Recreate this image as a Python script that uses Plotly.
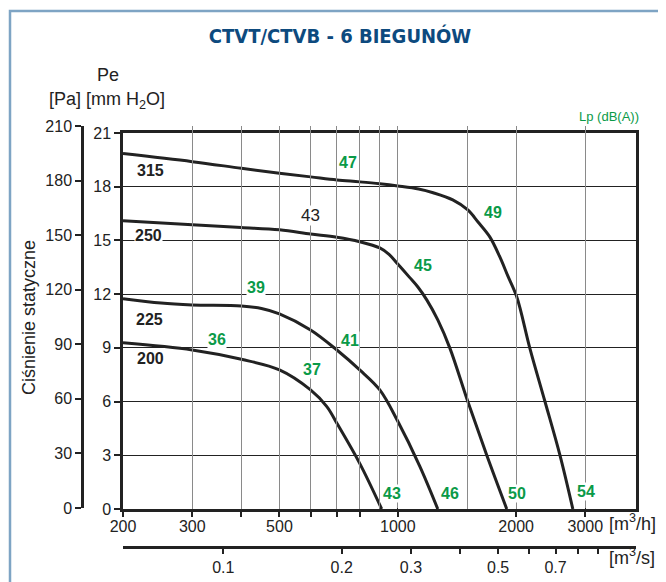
import math
import plotly.graph_objects as go

# ---------------- data ----------------
flow_315 = [200, 300, 400, 500, 600, 700, 800, 900, 1000, 1130, 1230, 1380, 1507, 1600, 1714, 1818, 1905, 2008, 2167, 2366, 2584, 2788]
pres_315 = [19.85, 19.4, 19.03, 18.75, 18.55, 18.38, 18.27, 18.16, 18.04, 17.87, 17.66, 17.26, 16.7, 16.03, 15.2, 14.08, 13.02, 11.84, 8.99, 6.03, 3.02, 0.0]

flow_250 = [200, 300, 400, 500, 600, 700, 800, 900, 950, 1000, 1070, 1125, 1185, 1264, 1356, 1507, 1684, 1893]
pres_250 = [16.1, 15.87, 15.72, 15.59, 15.36, 15.18, 14.93, 14.58, 14.22, 13.68, 12.95, 12.4, 11.68, 10.56, 9.0, 6.0, 3.0, 0.0]

flow_225 = [200, 250, 300, 400, 450, 500, 600, 700, 800, 900, 1000, 1137, 1264]
pres_225 = [11.75, 11.5, 11.4, 11.34, 11.2, 10.9, 10.0, 8.88, 7.77, 6.65, 4.9, 2.4, 0.0]

flow_200 = [200, 300, 400, 500, 600, 660, 700, 800, 910]
pres_200 = [9.28, 8.88, 8.36, 7.77, 6.65, 5.72, 4.79, 2.55, 0.0]

curves = [(flow_315, pres_315), (flow_250, pres_250), (flow_225, pres_225), (flow_200, pres_200)]

# curve labels (text, flow m3/h, pressure mm H2O)
size_labels = ["315", "250", "225", "200"]
size_flow = [235, 232, 233, 235]
size_pres = [18.88, 15.25, 10.61, 8.38]

noise_labels = ["47", "49", "45", "39", "36", "41", "37", "43", "46", "50", "54"]
noise_flow = [746, 1745, 1158, 437, 346, 755, 604, 966, 1356, 2008, 3009]
noise_pres = [19.33, 16.54, 13.58, 12.35, 9.44, 9.39, 7.77, 0.89, 0.89, 0.89, 0.95]

extra_label = "43"
extra_flow = 601
extra_pres = 16.37

# axes
flow_min, flow_max = 200, 4036
mm_ticks = [0, 3, 6, 9, 12, 15, 18, 21]
pa_ticks = [0, 30, 60, 90, 120, 150, 180, 210]
x_tickvals = [200, 300, 400, 500, 600, 700, 800, 1000, 2000, 3000]
x_ticktext = ["200", "300", "", "500", "", "", "", "1000", "2000", "3000"]
x_extra_grid = [900, 1500]
x_dark_grid = [1000, 3000]
s_tickvals = [0.1, 0.2, 0.3, 0.4, 0.5, 0.6, 0.7, 0.8, 0.9]
s_ticktext = ["0.1", "0.2", "0.3", "", "0.5", "", "0.7", "", ""]

# ---------------- layout geometry ----------------
OFF = 8  # page body margin
W, H = 666 - OFF, 582 - OFF
L = 82 - OFF
T = 126 - OFF
R = W - (636 - OFF)
B = H - (547 - OFF)
PW = W - L - R
PH = H - T - B


def px(sx):
    return (sx - OFF - L) / PW


def py(sy):
    return (H - B - (sy - OFF)) / PH


SANS = "Liberation Sans, Arial, sans-serif"
COND = "DejaVu Sans Condensed, Liberation Sans, sans-serif"
DARK = "#222222"
GRAY = "#8a8a8a"
GREEN = "#0a9a48"
BLUE = "#0d4a7e"

fig = go.Figure()
for fx, fy in curves:
    fig.add_trace(go.Scatter(x=fx, y=fy, mode="lines", line=dict(color=DARK, width=3, shape="spline", smoothing=1.0),
                             hoverinfo="skip", showlegend=False))

# helper traces so the extra axes render
fig.add_trace(go.Scatter(x=[0.1], y=[0], xaxis="x2", yaxis="y", mode="markers", marker=dict(opacity=0),
                         hoverinfo="skip", showlegend=False))
fig.add_trace(go.Scatter(x=[300], y=[0], xaxis="x", yaxis="y2", mode="markers", marker=dict(opacity=0),
                         hoverinfo="skip", showlegend=False))
fig.add_trace(go.Scatter(x=[300], y=[0], xaxis="x3", yaxis="y", mode="markers", marker=dict(opacity=0),
                         hoverinfo="skip", showlegend=False))

ann = []
for t, fx, fy in zip(size_labels, size_flow, size_pres):
    ann.append(dict(x=math.log10(fx), y=fy, xref="x", yref="y", text=t, showarrow=False,
                    xanchor="center", yanchor="middle",
                    font=dict(family=SANS, size=16, color=DARK, weight="bold"), bgcolor="white", borderpad=0))
for t, fx, fy in zip(noise_labels, noise_flow, noise_pres):
    ann.append(dict(x=math.log10(fx), y=fy, xref="x", yref="y", text=t, showarrow=False,
                    xanchor="center", yanchor="middle",
                    font=dict(family=SANS, size=16, color=GREEN, weight="bold"), bgcolor="white", borderpad=0))
ann.append(dict(x=math.log10(extra_flow), y=extra_pres, xref="x", yref="y", text=extra_label, showarrow=False,
                xanchor="center", yanchor="middle",
                font=dict(family=SANS, size=17, color=DARK), bgcolor="white", borderpad=0))


def pann(sx, sy, text, size, color=DARK, family=SANS, **kw):
    d = dict(x=px(sx), y=py(sy), xref="paper", yref="paper", text=text, showarrow=False,
             xanchor=kw.pop("xanchor", "center"), yanchor="middle",
             font=dict(family=family, size=size, color=color))
    d.update(kw)
    return d


ann += [
    pann(108, 75, "Pe", 18),
    pann(107, 100, "[Pa] [mm H<sub>2</sub>O]", 18),
    pann(609, 117, "Lp (dB(A))", 13, GREEN),
    pann(29, 318, "Ciśnienie statyczne", 18, textangle=-90),
    pann(607, 522, "[m<sup>3</sup>/h]", 18, xanchor="left"),
    pann(607, 556, "[m<sup>3</sup>/s]", 18, xanchor="left"),
]

ydom = [py(509), py(133)]
y2dom = [py(508), 1.0]
xdom = [px(123), 1.0]
xrange_log = [math.log10(flow_min), math.log10(flow_max)]

tickfont = dict(family=SANS, size=16, color=DARK)

fig.update_layout(
    template="none",
    width=W, height=H,
    margin=dict(l=L, r=R, t=T, b=B, autoexpand=False),
    paper_bgcolor="white", plot_bgcolor="rgba(0,0,0,0)",
    showlegend=False,
    title=dict(text="CTVT/CTVB - 6 BIEGUNÓW", x=(340 - OFF) / W, y=1 - (36 - OFF) / H,
               xanchor="center", yanchor="middle", xref="container", yref="container",
               font=dict(family=COND, size=20, color=BLUE, weight="bold")),
    xaxis=dict(type="log", range=xrange_log, domain=xdom, anchor="y",
               automargin=False,
               tickmode="array", tickvals=x_tickvals, ticktext=x_ticktext,
               ticks="outside", ticklen=5, tickwidth=1.5, tickcolor=DARK, ticklabelstandoff=-4,
               showgrid=True, gridcolor=GRAY, gridwidth=1.2,
               minor=dict(tickmode="array", tickvals=x_extra_grid, ticks="", showgrid=True,
                          gridcolor=GRAY, gridwidth=1.2),
               showline=True, linecolor=DARK, linewidth=2.5, mirror=True, zeroline=False,
               tickfont=tickfont),
    xaxis3=dict(type="log", range=xrange_log, overlaying="x", anchor="y", automargin=False,
                tickmode="array", tickvals=x_dark_grid, showticklabels=False, ticks="",
                showgrid=True, gridcolor=DARK, gridwidth=1.2, showline=False, zeroline=False),
    xaxis2=dict(type="log", range=[math.log10(flow_min / 3600), math.log10(flow_max / 3600)],
                overlaying="x", anchor="free", position=0, side="bottom", automargin=False,
                tickmode="array", tickvals=s_tickvals, ticktext=s_ticktext,
                ticks="outside", ticklen=5, tickwidth=1.5, tickcolor=DARK,
                showgrid=False, showline=True, linecolor=DARK, linewidth=2.5, zeroline=False,
                tickfont=tickfont),
    yaxis=dict(range=[0, 21], domain=ydom, anchor="x", automargin=False, tickmode="array", tickvals=mm_ticks,
               ticks="outside", ticklen=6, tickwidth=2, tickcolor=DARK,
               showgrid=True, gridcolor=DARK, gridwidth=1.2,
               showline=True, linecolor=DARK, linewidth=2.5, mirror=True, zeroline=False,
               tickfont=tickfont),
    yaxis2=dict(range=[0, 210], domain=y2dom, anchor="free", position=0, automargin=False,
                tickmode="array", tickvals=pa_ticks,
                ticks="outside", ticklen=6, tickwidth=2, tickcolor=DARK, showgrid=False,
                showline=True, linecolor=DARK, linewidth=2.5, zeroline=False,
                tickfont=tickfont),
    annotations=ann,
    shapes=[dict(type="rect", xref="paper", yref="paper", x0=px(10), y0=-1, x1=2, y1=py(11),
                 line=dict(color="#7ea4c4", width=2.5), layer="below")],
)

fig.write_html("out.html")
